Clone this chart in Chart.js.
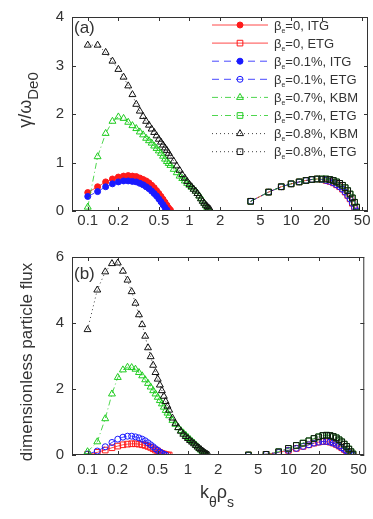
<!DOCTYPE html>
<html>
<head>
<meta charset="utf-8">
<script src="https://cdn.jsdelivr.net/npm/chart.js@4.4.1/dist/chart.umd.min.js"></script>
<style>
  html, body { margin: 0; padding: 0; background: #fff; }
  #wrap { position: relative; width: 373px; height: 519px; }
  canvas { position: absolute; left: 0; }
</style>
</head>
<body>
<div id="wrap">
  <canvas id="chart-a" width="373" height="240" style="top:0"></canvas>
  <canvas id="chart-b" width="373" height="279" style="top:240px"></canvas>
</div>
<script>
// k_theta * rho_s grids
const kLow = [0.1, 0.125, 0.15, 0.175, 0.2, 0.225, 0.25, 0.275, 0.3, 0.325, 0.35, 0.375, 0.4, 0.425,
  0.45, 0.475, 0.5, 0.525, 0.55, 0.575, 0.6, 0.625, 0.65, 0.7, 0.75, 0.8, 0.85, 0.9, 0.95, 1.0, 1.05,
  1.1, 1.15, 1.2, 1.25, 1.3, 1.35, 1.4, 1.45, 1.5, 1.55, 1.6];
const kHigh = [4, 6, 8, 10, 12, 14, 16, 18, 20, 22, 24, 26, 28, 30, 32, 34, 36, 38, 40, 42, 44];

const xTicks = [0.1, 0.2, 0.5, 1, 2, 5, 10, 20, 50];

// (a) growth rate gamma / omega_De0
const gammaItg0 = [0.38, 0.5, 0.6, 0.66, 0.7, 0.72, 0.73, 0.72, 0.71, 0.68, 0.65, 0.62, 0.58, 0.53, 0.48,
  0.42, 0.36, 0.3, 0.24, 0.18, 0.12, 0.06, 0.02];
const gammaItg01 = [0.3, 0.4, 0.5, 0.56, 0.6, 0.62, 0.62, 0.61, 0.6, 0.57, 0.54, 0.5, 0.46, 0.41, 0.36,
  0.31, 0.25, 0.19, 0.13, 0.07, 0.02];
const gammaKbm07 = [0.08, 1.12, 1.6, 1.85, 1.94, 1.91, 1.83, 1.76, 1.7, 1.63, 1.57, 1.5, 1.45, 1.4, 1.34,
  1.29, 1.24, 1.19, 1.13, 1.07, 1.02, 0.98, 0.94, 0.86, 0.79, 0.72, 0.67, 0.62, 0.57, 0.53, 0.49, 0.45,
  0.41, 0.36, 0.31, 0.26, 0.21, 0.16, 0.11, 0.07, 0.03];
const gammaKbm08 = [3.42, 3.42, 3.27, 3.09, 2.92, 2.76, 2.58, 2.4, 2.2, 2.06, 1.95, 1.85, 1.77, 1.69, 1.62,
  1.55, 1.48, 1.42, 1.36, 1.3, 1.25, 1.19, 1.13, 1.03, 0.93, 0.84, 0.75, 0.68, 0.61, 0.55, 0.5, 0.45,
  0.41, 0.36, 0.31, 0.25, 0.2, 0.16, 0.12, 0.09, 0.06, 0.03];
const gammaEtgLowBeta = [0.2, 0.39, 0.5, 0.56, 0.6, 0.63, 0.65, 0.66, 0.65, 0.63, 0.61, 0.58, 0.54, 0.5,
  0.45, 0.39, 0.32, 0.25, 0.16, 0.07, 0.0];
const gammaEtgHighBeta = [0.2, 0.39, 0.5, 0.56, 0.6, 0.63, 0.65, 0.66, 0.66, 0.66, 0.65, 0.63, 0.6, 0.57,
  0.53, 0.48, 0.42, 0.35, 0.27, 0.18, 0.08];

// (b) dimensionless particle flux
const fluxItg0 = [0.02, 0.08, 0.15, 0.22, 0.27, 0.31, 0.33, 0.34, 0.34, 0.33, 0.31, 0.29, 0.26, 0.23, 0.19,
  0.15, 0.12, 0.08, 0.05, 0.03, 0.01, 0.0, 0.0];
const fluxItg01 = [0.03, 0.12, 0.25, 0.38, 0.48, 0.54, 0.57, 0.57, 0.55, 0.52, 0.48, 0.43, 0.37, 0.31, 0.25,
  0.19, 0.14, 0.09, 0.05, 0.02, 0.0];
const fluxKbm07 = [0.1, 0.4, 1.1, 1.85, 2.35, 2.58, 2.66, 2.65, 2.6, 2.5, 2.4, 2.28, 2.17, 2.06, 1.95, 1.85,
  1.75, 1.65, 1.55, 1.45, 1.35, 1.27, 1.19, 1.05, 0.93, 0.83, 0.74, 0.67, 0.6, 0.53, 0.47, 0.41, 0.36,
  0.3, 0.25, 0.19, 0.15, 0.1, 0.06, 0.03, 0.01];
const fluxKbm08 = [3.8, 5.0, 5.55, 5.8, 5.82, 5.57, 5.3, 4.95, 4.6, 4.25, 3.95, 3.6, 3.25, 2.98, 2.72, 2.5,
  2.3, 2.12, 1.95, 1.78, 1.62, 1.48, 1.36, 1.12, 0.96, 0.83, 0.72, 0.63, 0.56, 0.5, 0.44, 0.39, 0.34,
  0.29, 0.24, 0.2, 0.16, 0.12, 0.08, 0.05, 0.02, 0.0];
const fluxEtgLowBeta = [0.0, 0.02, 0.08, 0.14, 0.2, 0.26, 0.31, 0.36, 0.39, 0.41, 0.41, 0.39, 0.36, 0.32,
  0.27, 0.22, 0.17, 0.12, 0.07, 0.03, 0.0];
const fluxEtgHighBeta = [0.0, 0.02, 0.1, 0.2, 0.29, 0.36, 0.43, 0.5, 0.55, 0.59, 0.6, 0.59, 0.56, 0.52,
  0.46, 0.4, 0.33, 0.26, 0.18, 0.1, 0.03];

const legendText = ['=0, ITG', '=0, ETG', '=0.1%, ITG', '=0.1%, ETG', '=0.7%, KBM', '=0.7%, ETG',
  '=0.8%, KBM', '=0.8%, ETG'];

const FONT = '"Liberation Sans", Arial, sans-serif';
const INK = '#333';
const RED = '#ff1a1a';
const BLUE = '#1a1aff';
const GREEN = '#22cc22';
const BLACK = '#111';

const STYLES = [
  { color: RED, marker: 'circle', filled: true, r: 3, dash: [] },
  { color: RED, marker: 'rect', filled: false, r: 4, dash: [] },
  { color: BLUE, marker: 'circle', filled: true, r: 3, dash: [7, 5] },
  { color: BLUE, marker: 'circle', filled: false, r: 3, dash: [7, 5] },
  { color: GREEN, marker: 'triangle', filled: false, r: 4, dash: [6, 3, 1, 3] },
  { color: GREEN, marker: 'rect', filled: false, r: 4, dash: [6, 3, 1, 3] },
  { color: BLACK, marker: 'triangle', filled: false, r: 4, dash: [1, 3] },
  { color: BLACK, marker: 'rect', filled: false, r: 4, dash: [1, 3] },
];

function pairs(ks, vals) {
  return vals.map((v, i) => ({ x: ks[i], y: v }));
}

function buildDatasets(series, openItg) {
  return series.map((s, i) => {
    const st = STYLES[i];
    const filled = st.filled && !openItg;
    const marker = openItg && i === 0 ? 'rect' : st.marker;
    return {
      label: legendText[i],
      data: s,
      showLine: true,
      borderColor: st.color,
      borderWidth: 0.8,
      borderDash: st.dash,
      pointStyle: marker,
      pointRadius: marker === 'rect' ? 4 : st.r,
      pointBorderWidth: 1,
      pointBorderColor: st.color,
      pointBackgroundColor: filled ? st.color : 'rgba(0,0,0,0)',
      order: -i,
    };
  });
}

function drawRich(ctx, parts, x, y) {
  let cx = x;
  parts.forEach((p) => {
    ctx.font = `${p.size}px ${FONT}`;
    ctx.fillText(p.t, cx, y + (p.dy || 0));
    cx += ctx.measureText(p.t).width;
  });
}

function richWidth(ctx, parts) {
  return parts.reduce((w, p) => {
    ctx.font = `${p.size}px ${FONT}`;
    return w + ctx.measureText(p.t).width;
  }, 0);
}

function drawMarker(ctx, st, x, y) {
  ctx.beginPath();
  if (st.marker === 'circle') {
    ctx.arc(x, y, st.r, 0, Math.PI * 2);
  } else if (st.marker === 'rect') {
    const h = st.r * Math.SQRT1_2;
    ctx.rect(x - h, y - h, 2 * h, 2 * h);
  } else {
    const r = st.r;
    ctx.moveTo(x, y - r);
    ctx.lineTo(x + r * 0.866, y + r * 0.5);
    ctx.lineTo(x - r * 0.866, y + r * 0.5);
    ctx.closePath();
  }
  ctx.fillStyle = st.filled ? st.color : 'rgba(0,0,0,0)';
  ctx.fill();
  ctx.stroke();
}

// box around the plot with inward tick marks, as in the original figure
const framePlugin = {
  id: 'frame',
  afterDraw(chart) {
    const { ctx, chartArea: a, scales } = chart;
    ctx.save();
    ctx.strokeStyle = INK;
    ctx.lineWidth = 1;
    ctx.setLineDash([]);
    ctx.strokeRect(a.left + 0.5, a.top + 0.5, a.right - a.left - 1, a.bottom - a.top - 1);
    ctx.beginPath();
    xTicks.forEach((v) => {
      const px = Math.round(scales.x.getPixelForValue(v)) + 0.5;
      ctx.moveTo(px, a.bottom); ctx.lineTo(px, a.bottom - 4);
      ctx.moveTo(px, a.top); ctx.lineTo(px, a.top + 4);
    });
    scales.y.ticks.forEach((t) => {
      const py = Math.round(scales.y.getPixelForValue(t.value)) + 0.5;
      ctx.moveTo(a.left, py); ctx.lineTo(a.left + 4, py);
      ctx.moveTo(a.right, py); ctx.lineTo(a.right - 4, py);
    });
    ctx.stroke();
    ctx.restore();
  },
};

const textPlugin = {
  id: 'texts',
  afterDraw(chart, args, opts) {
    const ctx = chart.ctx;
    ctx.save();
    ctx.fillStyle = INK;
    ctx.textBaseline = 'alphabetic';
    ctx.textAlign = 'left';

    drawRich(ctx, [{ t: opts.panel, size: 17 }], 74, opts.panelY);

    const w = richWidth(ctx, opts.yTitle);
    ctx.save();
    ctx.translate(opts.yTitleX, opts.yTitleY);
    ctx.rotate(-Math.PI / 2);
    drawRich(ctx, opts.yTitle, -w / 2, 0);
    ctx.restore();

    if (opts.xTitle) {
      const xw = richWidth(ctx, opts.xTitle);
      drawRich(ctx, opts.xTitle, 217 - xw / 2, opts.xTitleY);
    }

    if (opts.legend) {
      STYLES.forEach((st, i) => {
        const y = 25 + i * 18.1;
        ctx.strokeStyle = st.color;
        ctx.lineWidth = 0.8;
        ctx.setLineDash(st.dash);
        ctx.beginPath();
        ctx.moveTo(212, y); ctx.lineTo(268, y);
        ctx.stroke();
        ctx.setLineDash([]);
        ctx.lineWidth = 1;
        drawMarker(ctx, st, 240, y);
        ctx.fillStyle = INK;
        drawRich(ctx, [{ t: 'β', size: 13 }, { t: 'e', size: 7, dy: 3 }, { t: legendText[i], size: 13 }],
          274, y + 4.5);
      });
    }
    ctx.restore();
  },
};

function makeOptions(cfg) {
  return {
    responsive: false,
    animation: false,
    layout: { padding: { left: 0, right: 2, top: cfg.top, bottom: 0 } },
    plugins: { legend: { display: false }, tooltip: { enabled: false }, texts: cfg.texts },
    scales: {
      x: {
        type: 'logarithmic',
        min: 0.07,
        max: 57,
        grid: { display: false, drawTicks: false },
        border: { display: false },
        afterBuildTicks: (s) => { s.ticks = xTicks.map((v) => ({ value: v })); },
        afterFit: (s) => { s.height = cfg.xHeight; },
        ticks: {
          autoSkip: false, maxRotation: 0, padding: cfg.xPad, color: INK,
          font: { size: 15, family: FONT }, callback: (v) => String(v),
        },
      },
      y: {
        min: 0,
        max: cfg.yMax,
        grid: { display: false, drawTicks: false },
        border: { display: false },
        afterFit: (s) => { s.width = 72; },
        ticks: { stepSize: cfg.yStep, padding: 8, color: INK, font: { size: 15, family: FONT } },
      },
    },
  };
}

new Chart(document.getElementById('chart-a'), {
  type: 'scatter',
  data: {
    datasets: buildDatasets([
      pairs(kLow, gammaItg0), pairs(kHigh, gammaEtgLowBeta),
      pairs(kLow, gammaItg01), pairs(kHigh, gammaEtgLowBeta),
      pairs(kLow, gammaKbm07), pairs(kHigh, gammaEtgHighBeta),
      pairs(kLow, gammaKbm08), pairs(kHigh, gammaEtgHighBeta),
    ], false),
  },
  options: makeOptions({
    top: 14, xHeight: 29, xPad: 1, yMax: 4, yStep: 1,
    texts: {
      panel: '(a)', panelY: 33, yTitleX: 31, yTitleY: 100, legend: true,
      yTitle: [{ t: 'γ/ω', size: 18 }, { t: 'De0', size: 15, dy: 7 }],
    },
  }),
  plugins: [framePlugin, textPlugin],
});

new Chart(document.getElementById('chart-b'), {
  type: 'scatter',
  data: {
    datasets: buildDatasets([
      pairs(kLow, fluxItg0), pairs(kHigh, fluxEtgLowBeta),
      pairs(kLow, fluxItg01), pairs(kHigh, fluxEtgLowBeta),
      pairs(kLow, fluxKbm07), pairs(kHigh, fluxEtgHighBeta),
      pairs(kLow, fluxKbm08), pairs(kHigh, fluxEtgHighBeta),
    ], true),
  },
  options: makeOptions({
    top: 17, xHeight: 64, xPad: 6, yMax: 6, yStep: 2,
    texts: {
      panel: '(b)', panelY: 39, yTitleX: 32, yTitleY: 122, legend: false,
      yTitle: [{ t: 'dimensionless particle flux', size: 17 }],
      xTitle: [{ t: 'k', size: 18 }, { t: 'θ', size: 14, dy: 9 }, { t: 'ρ', size: 18 }, { t: 's', size: 14, dy: 9 }],
      xTitleY: 258,
    },
  }),
  plugins: [framePlugin, textPlugin],
});
</script>
</body>
</html>
